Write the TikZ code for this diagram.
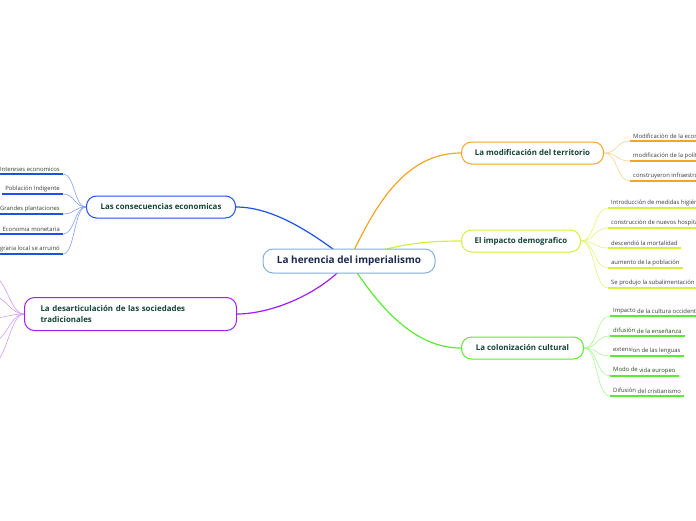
\documentclass[tikz,border=0pt]{standalone}
\usepackage{fontspec}
\setmainfont{Open Sans}
\usepackage{tikz}
\definecolor{rootblue}{RGB}{130, 175, 220}
\definecolor{rootnavy}{RGB}{28, 40, 80}
\definecolor{topicink}{RGB}{20, 68, 56}
\definecolor{leafink}{RGB}{60, 60, 60}
\definecolor{ecoblue}{RGB}{30, 80, 235}
\definecolor{desviolet}{RGB}{160, 30, 240}
\definecolor{terorange}{RGB}{245, 165, 35}
\definecolor{demlime}{RGB}{215, 240, 60}
\definecolor{culgreen}{RGB}{90, 235, 50}
\newcommand{\lift}[1]{\raisebox{1.3pt}{#1}}

\begin{document}
\begin{tikzpicture}[x=1pt, y=-1pt,
    root/.style={draw=rootblue, line width=1pt, rounded corners=10pt, fill=white,
                 minimum width=172pt, minimum height=24pt,
                 font=\bfseries\fontsize{10}{12}\selectfont, text=rootnavy},
    topic/.style={draw=#1, line width=1pt, rounded corners=10pt, fill=white,
                  minimum height=22pt, font=\bfseries\fontsize{7.9}{11.5}\selectfont,
                  text=topicink},
    leafL/.style={anchor=south east, inner xsep=3pt, inner ysep=2pt,
                  font=\fontsize{5.9}{7}\selectfont, text=leafink},
    leafR/.style={anchor=south west, inner xsep=3pt, inner ysep=2pt,
                  font=\fontsize{5.9}{7}\selectfont, text=leafink},
    uline/.style={draw=#1, line width=1.6pt},
    twig/.style={draw=#1, line width=0.6pt},
    limb/.style={draw=#1, line width=1.2pt}
]
\useasboundingbox (0,0) rectangle (696,520);
\clip (0,0) rectangle (696,520);

%% ── Main topics ────────────────────────────────────────────────────────
\node[topic=ecoblue, anchor=east, minimum width=149pt]    (eco) at (236,207)
      {Las consecuencias economicas};
\node[topic=desviolet, anchor=east, minimum width=212pt, minimum height=33pt,
      text width=180pt, inner xsep=16pt, align=left]      (des) at (237,314)
      {La desarticulación de las sociedades\\tradicionales};
\node[topic=terorange, anchor=west, minimum width=142pt]  (ter) at (461,153)
      {La modificación del territorio};
\node[topic=demlime, anchor=west, minimum width=119pt]    (dem) at (461,241)
      {El impacto demografico};
\node[topic=culgreen, anchor=west, minimum width=122pt]   (cul) at (461,348)
      {La colonización cultural};

%% ── Limbs from the centre ──────────────────────────────────────────────
\coordinate (hub) at (349,261);
\draw[limb=ecoblue]   (hub) .. controls (315,235) and (275,207) .. (eco.east);
\draw[limb=desviolet] (hub) .. controls (320,295) and (270,314) .. (des.east);
\draw[limb=terorange] (hub) .. controls (375,205) and (405,153) .. (ter.west);
\draw[limb=demlime]   (hub) .. controls (395,243) and (430,241) .. (dem.west);
\draw[limb=culgreen]  (hub) .. controls (375,300) and (410,348) .. (cul.west);

%% ── Root ───────────────────────────────────────────────────────────────
\node[root] (root) at (hub) {La herencia del imperialismo};

%% ── Economic leaves ────────────────────────────────────────────────────
\node[leafL] (e1) at (63,174) {Intereses economicos};
\node[leafL] (e2) at (63,194) {Población Indigente};
\node[leafL] (e3) at (63,214) {Grandes plantaciones};
\node[leafL] (e4) at (63,234) {Economia monetaria};
\node[leafL] (e5) at (63,254) {Agraria local se arruinó};
\draw[uline=ecoblue] (e1.south west) -- (e1.south east);
\draw[uline=ecoblue] (e2.south west) -- (e2.south east);
\draw[uline=ecoblue] (e3.south west) -- (e3.south east);
\draw[uline=ecoblue] (e4.south west) -- (e4.south east);
\draw[uline=ecoblue] (e5.south west) -- (e5.south east);
\draw[twig=ecoblue!55] (eco.west) .. controls +(-12,0) and +(12,0) .. (e1.south east);
\draw[twig=ecoblue!55] (eco.west) .. controls +(-12,0) and +(12,0) .. (e2.south east);
\draw[twig=ecoblue!55] (eco.west) .. controls +(-12,0) and +(12,0) .. (e3.south east);
\draw[twig=ecoblue!55] (eco.west) .. controls +(-12,0) and +(12,0) .. (e4.south east);
\draw[twig=ecoblue!55] (eco.west) .. controls +(-12,0) and +(12,0) .. (e5.south east);

%% ── Society leaves (off the page) ──────────────────────────────────────
\coordinate (d1) at (-8,276);
\coordinate (d2) at (-8,296);
\coordinate (d3) at (-8,318);
\coordinate (d4) at (-8,342);
\coordinate (d5) at (-8,364);
\draw[twig=desviolet!45] (des.west) .. controls +(-14,0) and +(14,0) .. (d1);
\draw[twig=desviolet!45] (des.west) .. controls +(-14,0) and +(14,0) .. (d2);
\draw[twig=desviolet!45] (des.west) .. controls +(-14,0) and +(14,0) .. (d3);
\draw[twig=desviolet!45] (des.west) .. controls +(-14,0) and +(14,0) .. (d4);
\draw[twig=desviolet!45] (des.west) .. controls +(-14,0) and +(14,0) .. (d5);

%% ── Territory leaves ───────────────────────────────────────────────────
\node[leafR] (t1) at (630,141) {Modificación de la economía};
\node[leafR] (t2) at (630,161) {modificación de la política};
\node[leafR] (t3) at (630,181) {construyeron infraestructuras};
\draw[uline=terorange] (t1.south west) -- (t1.south east);
\draw[uline=terorange] (t2.south west) -- (t2.south east);
\draw[uline=terorange] (t3.south west) -- (t3.south east);
\draw[twig=terorange!50] (ter.east) .. controls +(14,0) and +(-14,0) .. (t1.south west);
\draw[twig=terorange!50] (ter.east) .. controls +(14,0) and +(-14,0) .. (t2.south west);
\draw[twig=terorange!50] (ter.east) .. controls +(14,0) and +(-14,0) .. (t3.south west);

%% ── Demographic leaves ─────────────────────────────────────────────────
\node[leafR] (m1) at (608,208) {Introducción de medidas higiénicas};
\node[leafR] (m2) at (608,228) {construcción de nuevos hospitales};
\node[leafR] (m3) at (608,248) {descendió la mortalidad};
\node[leafR] (m4) at (608,268) {aumento de la población};
\node[leafR] (m5) at (608,288) {Se produjo la subalimentación};
\draw[uline=demlime] (m1.south west) -- (m1.south east);
\draw[uline=demlime] (m2.south west) -- (m2.south east);
\draw[uline=demlime] (m3.south west) -- (m3.south east);
\draw[uline=demlime] (m4.south west) -- (m4.south east);
\draw[uline=demlime] (m5.south west) -- (m5.south east);
\draw[twig=demlime!70] (dem.east) .. controls +(14,0) and +(-14,0) .. (m1.south west);
\draw[twig=demlime!70] (dem.east) .. controls +(14,0) and +(-14,0) .. (m2.south west);
\draw[twig=demlime!70] (dem.east) .. controls +(14,0) and +(-14,0) .. (m3.south west);
\draw[twig=demlime!70] (dem.east) .. controls +(14,0) and +(-14,0) .. (m4.south west);
\draw[twig=demlime!70] (dem.east) .. controls +(14,0) and +(-14,0) .. (m5.south west);

%% ── Cultural leaves ────────────────────────────────────────────────────
\node[leafR] (k1) at (610,316) {\lift{Impacto} de la cultura occidental};
\node[leafR] (k2) at (610,336) {\lift{difusión} de la enseñanza};
\node[leafR] (k3) at (610,356) {\lift{extensi}on de las lenguas};
\node[leafR] (k4) at (610,376) {\lift{Modo de} vida europeo};
\node[leafR] (k5) at (610,396) {\lift{Difusión} del cristianismo};
\draw[uline=culgreen] (k1.south west) -- (k1.south east);
\draw[uline=culgreen] (k2.south west) -- (k2.south east);
\draw[uline=culgreen] (k3.south west) -- (k3.south east);
\draw[uline=culgreen] (k4.south west) -- (k4.south east);
\draw[uline=culgreen] (k5.south west) -- (k5.south east);
\draw[twig=culgreen!50] (cul.east) .. controls +(14,0) and +(-14,0) .. (k1.south west);
\draw[twig=culgreen!50] (cul.east) .. controls +(14,0) and +(-14,0) .. (k2.south west);
\draw[twig=culgreen!50] (cul.east) .. controls +(14,0) and +(-14,0) .. (k3.south west);
\draw[twig=culgreen!50] (cul.east) .. controls +(14,0) and +(-14,0) .. (k4.south west);
\draw[twig=culgreen!50] (cul.east) .. controls +(14,0) and +(-14,0) .. (k5.south west);
\end{tikzpicture}
\end{document}
